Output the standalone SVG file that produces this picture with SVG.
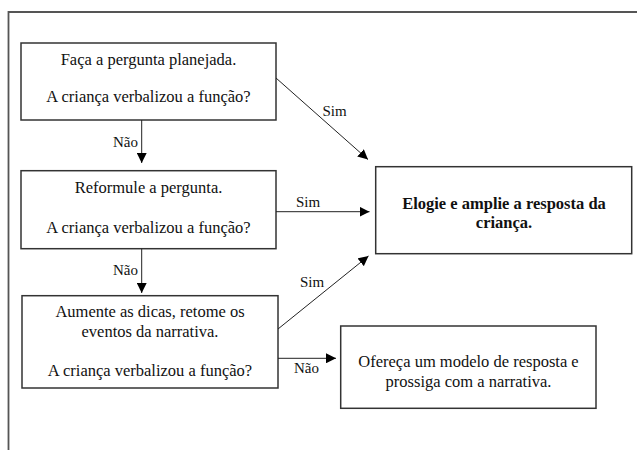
<svg xmlns="http://www.w3.org/2000/svg" width="637" height="450" viewBox="0 0 637 450">
<style>
.box{fill:#fff;stroke:#333;stroke-width:1.5}
text{font-family:"Liberation Serif","Times New Roman",serif;fill:#111}
.t{font-size:16.5px;text-anchor:middle}
.b{font-weight:bold}
.l{font-size:15px}
.c{stroke:#222;stroke-width:1;fill:none;marker-end:url(#ah)}
.frame{stroke:#555;stroke-width:1.8;fill:none}
</style>
<defs>
<marker id="ah" viewBox="0 0 10 10" refX="10" refY="5" markerWidth="10" markerHeight="10" markerUnits="userSpaceOnUse" orient="auto">
<path d="M0,0 L10,5 L0,10 z" fill="#000"/>
</marker>
</defs>
<path class="frame" d="M8.5,450 V12 H637"/>
<g id="n1">
<rect class="box" x="21" y="43" width="255" height="77"/>
<text class="t" x="148.5" y="65">Faça a pergunta planejada.</text>
<text class="t" x="148.5" y="102">A criança verbalizou a função?</text>
</g>
<g id="n2">
<rect class="box" x="21" y="170.7" width="255" height="78"/>
<text class="t" x="148.5" y="193">Reformule a pergunta.</text>
<text class="t" x="148.5" y="232.5">A criança verbalizou a função?</text>
</g>
<g id="n3">
<rect class="box" x="22" y="295.7" width="256" height="92.3"/>
<text class="t" x="150" y="317">Aumente as dicas, retome os</text>
<text class="t" x="150" y="336.5">eventos da narrativa.</text>
<text class="t" x="150" y="376">A criança verbalizou a função?</text>
</g>
<g id="n4">
<rect class="box" x="375.7" y="166.7" width="256" height="87"/>
<text class="t b" x="504" y="209">Elogie e amplie a resposta da</text>
<text class="t b" x="504" y="227.5">criança.</text>
</g>
<g id="n5">
<rect class="box" x="340.7" y="326" width="255.3" height="82.3"/>
<text class="t" x="468.5" y="367.3">Ofereça um modelo de resposta e</text>
<text class="t" x="468.5" y="386.7">prossiga com a narrativa.</text>
</g>
<g id="connectors">
<path class="c" d="M141.7,120 V163"/>
<text class="l" x="113" y="147">Não</text>
<path class="c" d="M141.7,248.7 V293"/>
<text class="l" x="113" y="275">Não</text>
<path class="c" d="M276,78 L368,159.5"/>
<text class="l" x="322.5" y="116">Sim</text>
<path class="c" d="M276,211.7 H369.5"/>
<text class="l" x="296" y="207">Sim</text>
<path class="c" d="M278,329 L368.5,256"/>
<text class="l" x="300" y="287">Sim</text>
<path class="c" d="M278,358.3 H336"/>
<text class="l" x="294" y="373.3">Não</text>
</g>
</svg>
